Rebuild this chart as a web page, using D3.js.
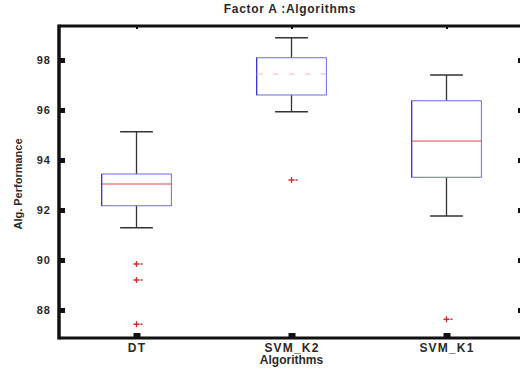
<!DOCTYPE html>
<html>
<head>
<meta charset="utf-8">
<script src="https://cdn.jsdelivr.net/npm/d3@7"></script>
<style>
  body { margin: 0; background: #fff; }
  text { font-family: "Liberation Sans", Arial, sans-serif; font-weight: bold; fill: #2a2a2a; }
</style>
</head>
<body>
<svg id="chart"></svg>
<script>
// categorias e estatisticas
const algoritmos = ["DT", "SVM_K2", "SVM_K1"]
const whiskerMax = [95.13, 98.89, 97.40]
const q3 = [93.44, 98.09, 96.37]
const mediana = [93.04, 97.44, 94.76]
const q1 = [92.17, 96.60, 93.31]
const whiskerMin = [91.29, 95.93, 91.76]
const outliers = [
    [89.84, 89.20, 87.43],
    [93.20],
    [87.63]
]
const yTicks = [88, 90, 92, 94, 96, 98]

const svgWidth = 520
const svgHeight = 373
const margin = { left: 59, top: 26, right: -4, bottom: 35 }
const chartRight = svgWidth - margin.right
const chartBottom = svgHeight - margin.bottom

const svg = d3.select("#chart")
    .attr("width", svgWidth)
    .attr("height", svgHeight)

const xScale = d3.scalePoint()
    .domain(algoritmos)
    .range([margin.left, chartRight])
    .padding(0.5)

const yScale = d3.scaleLinear()
    .domain([86.88, 99.36])
    .range([chartBottom, margin.top])

const boxW = xScale.step() * 0.45
const capW = boxW * 0.47

// eixos
const yAxis = svg.append("g")
    .attr("transform", `translate(${margin.left},0)`)
    .call(d3.axisLeft(yScale).tickValues(yTicks).tickSizeInner(-6).tickSizeOuter(0).tickPadding(8))
yAxis.select(".domain").remove()
yAxis.selectAll("line").attr("stroke", "#111").attr("stroke-width", 5)
yAxis.selectAll("text").style("font-size", "11px").style("letter-spacing", "1px").attr("fill", "#2a2a2a")

const yAxisR = svg.append("g")
    .attr("transform", `translate(${chartRight},0)`)
    .call(d3.axisRight(yScale).tickValues(yTicks).tickSizeInner(-6).tickSizeOuter(0).tickFormat(""))
yAxisR.select(".domain").remove()
yAxisR.selectAll("line").attr("stroke", "#111").attr("stroke-width", 5)

const xAxis = svg.append("g")
    .attr("transform", `translate(0,${chartBottom})`)
    .call(d3.axisBottom(xScale).tickSizeInner(-5).tickSizeOuter(0).tickPadding(5))
xAxis.select(".domain").remove()
xAxis.selectAll("line").attr("stroke", "#111").attr("stroke-width", 7)
xAxis.selectAll("text").style("font-size", "12px").style("letter-spacing", "1.2px").attr("fill", "#2a2a2a")

const xAxisT = svg.append("g")
    .attr("transform", `translate(0,${margin.top})`)
    .call(d3.axisTop(xScale).tickSizeInner(-3).tickSizeOuter(0).tickFormat(""))
xAxisT.select(".domain").remove()
xAxisT.selectAll("line").attr("stroke", "#111").attr("stroke-width", 2)

// moldura
svg.append("line").attr("x1", margin.left).attr("x2", chartRight)
    .attr("y1", margin.top).attr("y2", margin.top)
    .attr("stroke", "#111").attr("stroke-width", 3)
svg.append("line").attr("x1", margin.left).attr("x2", chartRight)
    .attr("y1", chartBottom).attr("y2", chartBottom)
    .attr("stroke", "#111").attr("stroke-width", 3)
svg.append("line").attr("x1", margin.left).attr("x2", margin.left)
    .attr("y1", margin.top - 1.5).attr("y2", chartBottom + 1.5)
    .attr("stroke", "#111").attr("stroke-width", 3.5)

// caixas
const boxes = svg.append("g").selectAll("g")
    .data(algoritmos)
    .join("g")

boxes.append("line")
    .attr("x1", d => xScale(d)).attr("x2", d => xScale(d))
    .attr("y1", (d, i) => yScale(whiskerMax[i])).attr("y2", (d, i) => yScale(q3[i]))
    .attr("stroke", "#333").attr("stroke-width", 1.3)
boxes.append("line")
    .attr("x1", d => xScale(d)).attr("x2", d => xScale(d))
    .attr("y1", (d, i) => yScale(q1[i])).attr("y2", (d, i) => yScale(whiskerMin[i]))
    .attr("stroke", "#333").attr("stroke-width", 1.3)
boxes.append("line")
    .attr("x1", d => xScale(d) - capW / 2).attr("x2", d => xScale(d) + capW / 2)
    .attr("y1", (d, i) => yScale(whiskerMax[i])).attr("y2", (d, i) => yScale(whiskerMax[i]))
    .attr("stroke", "#333").attr("stroke-width", 1.3)
boxes.append("line")
    .attr("x1", d => xScale(d) - capW / 2).attr("x2", d => xScale(d) + capW / 2)
    .attr("y1", (d, i) => yScale(whiskerMin[i])).attr("y2", (d, i) => yScale(whiskerMin[i]))
    .attr("stroke", "#333").attr("stroke-width", 1.3)

boxes.append("rect")
    .attr("x", d => xScale(d) - boxW / 2)
    .attr("width", boxW)
    .attr("y", (d, i) => yScale(q3[i]))
    .attr("height", (d, i) => yScale(q1[i]) - yScale(q3[i]))
    .attr("fill", "none")
    .attr("stroke", "#6a6ae6").attr("stroke-width", 1)
boxes.append("line")
    .attr("x1", d => xScale(d) - boxW / 2).attr("x2", d => xScale(d) - boxW / 2)
    .attr("y1", (d, i) => yScale(q3[i])).attr("y2", (d, i) => yScale(q1[i]))
    .attr("stroke", "#3a3ad0").attr("stroke-width", 1.3)

boxes.append("line")
    .attr("x1", d => xScale(d) - boxW / 2).attr("x2", d => xScale(d) + boxW / 2)
    .attr("y1", (d, i) => yScale(mediana[i])).attr("y2", (d, i) => yScale(mediana[i]))
    .attr("stroke", (d, i) => i == 1 ? "#f2b8b8" : "#e04545")
    .attr("stroke-dasharray", (d, i) => i == 1 ? "6,10" : null)
    .attr("stroke-width", 1)

// outliers
const pontos = []
algoritmos.forEach((a, i) => outliers[i].forEach(v => pontos.push({ alg: a, value: v })))
svg.append("g").selectAll("path")
    .data(pontos)
    .join("path")
    .attr("d", d => {
        const x = xScale(d.alg), y = yScale(d.value)
        return `M${x - 3},${y}H${x + 3}M${x},${y - 3}V${y + 3}M${x + 4},${y}H${x + 6}`
    })
    .attr("stroke", "#d42a2a").attr("stroke-width", 1.3)

// titulos
svg.append("text")
    .attr("x", 290).attr("y", 13)
    .attr("text-anchor", "middle")
    .style("font-size", "12px")
    .style("letter-spacing", "0.7px")
    .text("Factor A :Algorithms")

svg.append("text")
    .attr("x", xScale("SVM_K2")).attr("y", 364)
    .attr("text-anchor", "middle")
    .style("font-size", "12px")
    .text("Algorithms")

svg.append("text")
    .attr("transform", `translate(22,${(margin.top + chartBottom) / 2 + 2}) rotate(-90)`)
    .attr("text-anchor", "middle")
    .style("font-size", "11px")
    .text("Alg. Performance")
</script>
</body>
</html>
